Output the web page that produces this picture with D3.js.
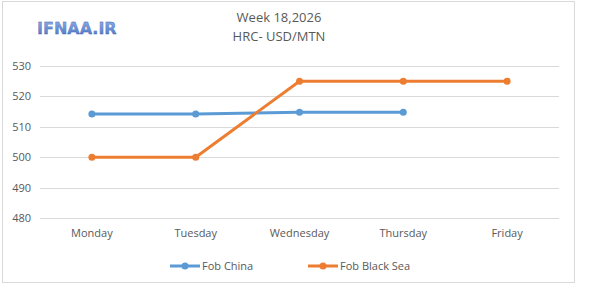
<!DOCTYPE html>
<html><head><meta charset="utf-8">
<script src="https://cdn.jsdelivr.net/npm/d3@7"></script>
<style>body{margin:0;background:#fff}svg{display:block}</style>
</head><body>
<script>
const categories = ["Monday","Tuesday","Wednesday","Thursday","Friday"];
const fobChina = [514.2, 514.2, 514.8, 514.8, null];
const fobBlackSea = [500, 500, 525, 525, 525];
const yTicks = [480, 490, 500, 510, 520, 530];
const seriesNames = ["Fob China", "Fob Black Sea"];
const colors = ["#5B9BD5", "#ED7D31"];

const W = 600, H = 296;
const svg = d3.select("body").append("svg").attr("width", W).attr("height", H);
const font = "'Open Sans', 'Liberation Sans', sans-serif";

// frame
svg.append("rect").attr("x", 2.5).attr("y", 1.5).attr("width", 572).attr("height", 281)
  .attr("fill", "#fff").attr("stroke", "#d9d9d9").attr("stroke-width", 1);

const x = d3.scaleBand().domain(categories).range([40, 559]);
const y = d3.scaleLinear().domain([480, 530]).range([218, 66]);

// gridlines
svg.append("g").selectAll("line").data(yTicks).join("line")
  .attr("x1", 40).attr("x2", 559)
  .attr("y1", d => Math.round(y(d)) + 0.5).attr("y2", d => Math.round(y(d)) + 0.5)
  .attr("stroke", "#d9d9d9").attr("stroke-width", 1);

// y axis labels
const yAxis = d3.axisLeft(y).tickValues(yTicks).tickSize(0).tickPadding(0);
const gy = svg.append("g").attr("transform", "translate(31,0)").call(yAxis);
gy.select(".domain").remove();
gy.selectAll("text").attr("font-family", font).attr("font-size", 11).attr("fill", "#595959");

// x axis labels
const xAxis = d3.axisBottom(x).tickSize(0).tickPadding(0);
const gx = svg.append("g").attr("transform", "translate(0,229)").call(xAxis);
gx.select(".domain").remove();
gx.selectAll("text").attr("font-family", font).attr("font-size", 11).attr("fill", "#595959");

const cx = d => x(d) + x.bandwidth() / 2;
const series = [fobChina, fobBlackSea];
series.forEach((vals, i) => {
  const pts = categories.map((c, j) => ({c, v: vals[j]})).filter(p => p.v != null);
  svg.append("path").datum(pts)
    .attr("d", d3.line().x(p => cx(p.c)).y(p => y(p.v)))
    .attr("fill", "none").attr("stroke", colors[i]).attr("stroke-width", 3)
    .attr("stroke-linejoin", "round").attr("stroke-linecap", "round");
  svg.append("g").selectAll("circle").data(pts).join("circle")
    .attr("cx", p => cx(p.c)).attr("cy", p => y(p.v)).attr("r", 3.5)
    .attr("fill", colors[i]);
});

// title
svg.append("text").attr("x", 279).attr("y", 22).attr("text-anchor", "middle")
  .attr("font-family", font).attr("font-size", 13).attr("fill", "#595959").text("Week 18,2026");
svg.append("text").attr("x", 279).attr("y", 41).attr("text-anchor", "middle")
  .attr("font-family", font).attr("font-size", 13).attr("fill", "#595959").text("HRC- USD/MTN");

// logo
const defs = svg.append("defs");
const grad = defs.append("linearGradient").attr("id", "lg").attr("x1", 0).attr("y1", 0).attr("x2", 0).attr("y2", 1);
grad.append("stop").attr("offset", "0%").attr("stop-color", "#8fb0e8");
grad.append("stop").attr("offset", "100%").attr("stop-color", "#4a72c4");
svg.append("text").attr("x", 37).attr("y", 34).attr("font-family", "'DejaVu Sans', sans-serif")
  .attr("font-size", 16).attr("font-weight", "bold").attr("fill", "url(#lg)")
  .attr("stroke", "#3f62ad").attr("stroke-width", 0.3).text("IFNAA.IR");

// legend
const legendX = [170, 308];
seriesNames.forEach((n, i) => {
  const g = svg.append("g").attr("transform", `translate(${legendX[i]},266)`);
  g.append("line").attr("x1", 0).attr("x2", 30).attr("y1", 0).attr("y2", 0)
    .attr("stroke", colors[i]).attr("stroke-width", 3);
  g.append("circle").attr("cx", 15).attr("cy", 0).attr("r", 3.5).attr("fill", colors[i]);
  g.append("text").attr("x", 32).attr("y", 4).attr("font-family", font).attr("font-size", 11)
    .attr("fill", "#595959").text(n);
});
</script>
</body></html>
